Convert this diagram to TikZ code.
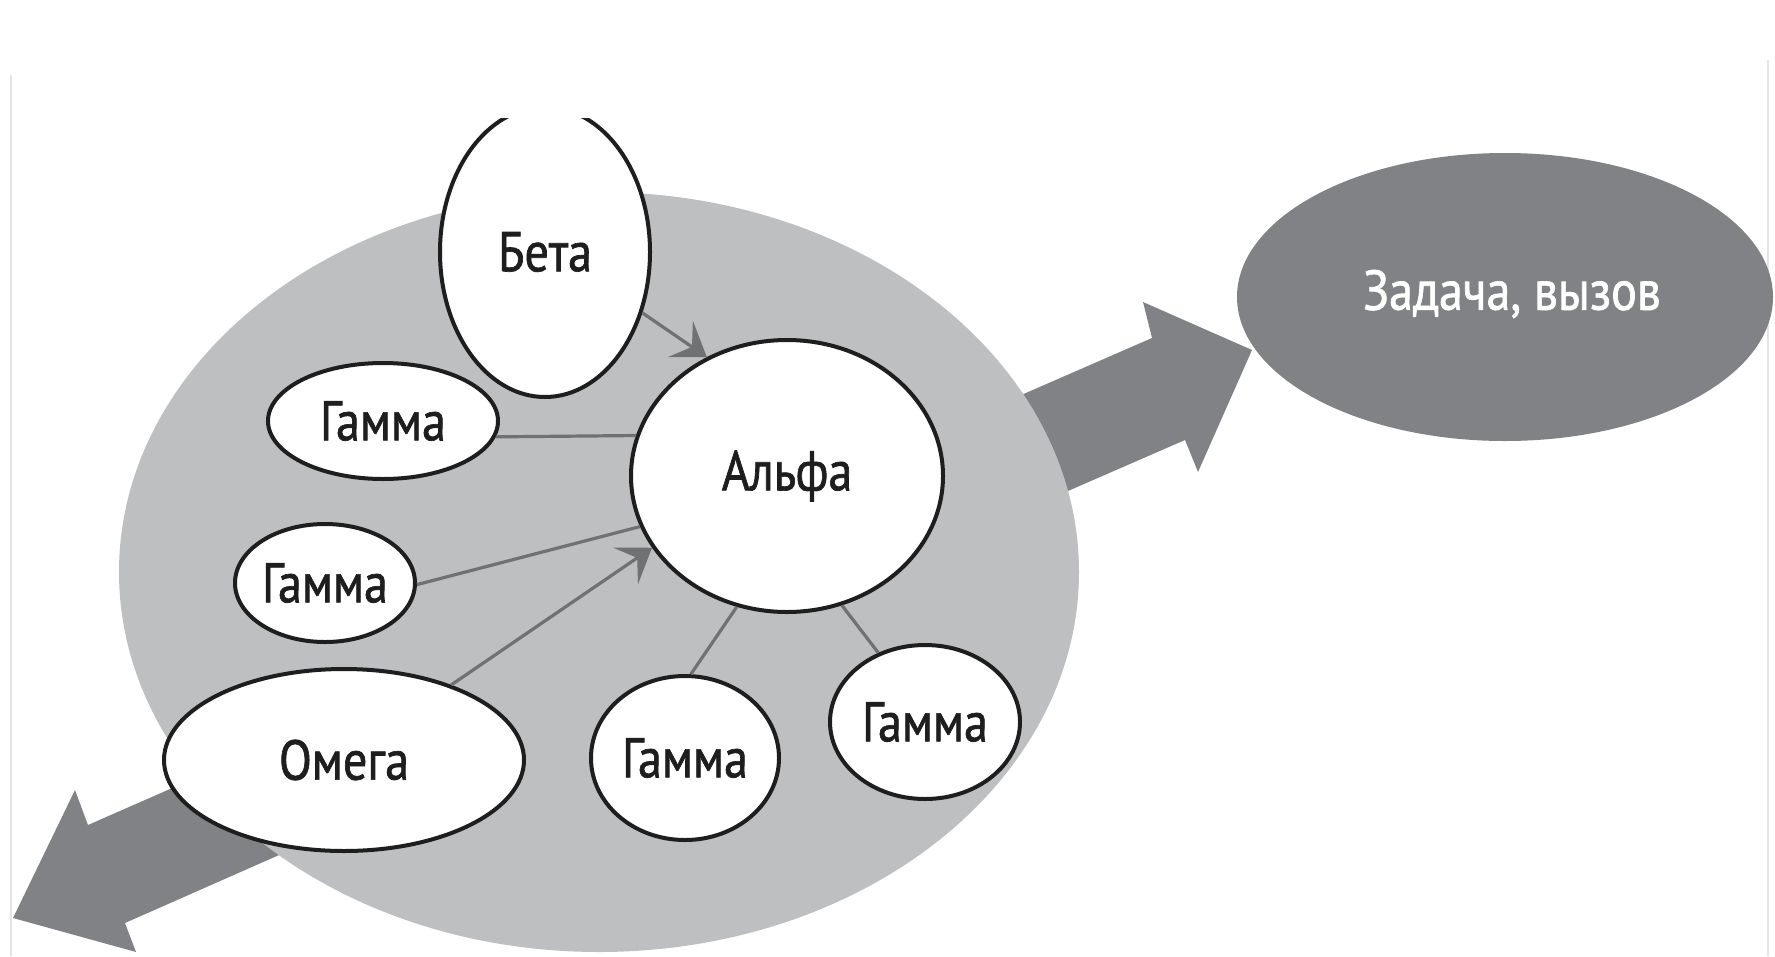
\documentclass[tikz,border=0pt]{standalone}
\usepackage{fontspec}
\setmainfont[FakeStretch=0.86,FakeBold=1.2]{PT Sans}
\usetikzlibrary{arrows.meta,shapes.geometric}
\definecolor{lightfill}{RGB}{190,191,193}
\definecolor{darkfill}{RGB}{128,130,133}
\definecolor{linegray}{RGB}{112,113,115}
\definecolor{inkc}{RGB}{30,30,30}
\definecolor{framegray}{RGB}{228,228,228}
\begin{document}
\begin{tikzpicture}[x=1pt,y=-1pt,
  bubble/.style={ellipse, draw=inkc, line width=4pt, fill=white, inner sep=0pt,
    font=\fontsize{56}{60}\selectfont, text=inkc},
  link/.style={draw=linegray, line width=3.2pt},
  linkarrow/.style={link, -{Stealth[length=32pt,width=44pt,inset=14pt]}},
  bigarrow/.style={fill=darkfill},
]
\useasboundingbox (0,0) rectangle (1775,956);
% faint frame lines
\draw[framegray, line width=1.5pt] (11,75) -- (11,956);
\draw[framegray, line width=1.5pt] (1768,60) -- (1768,956);
% big arrows (behind the team ellipse)
\fill[bigarrow] (1252,350) -- (1143,302) -- (1152,338) -- (895,450) -- (928,552) -- (1185,440) -- (1198,472) -- cycle;
\fill[bigarrow] (13,918) -- (75,790) -- (88,825) -- (400,688) -- (440,784) -- (125,923) -- (136,952) -- cycle;
% team area
\node[ellipse, fill=lightfill, inner sep=0pt, minimum width=960pt, minimum height=760pt] (team) at (599,572) {};
% goal
\node[ellipse, fill=darkfill, inner sep=0pt, minimum width=536pt, minimum height=288pt] (goal) at (1505,297) {};
\node[font=\fontsize{56}{60}\selectfont, text=white] (goaltext) at (1512,294) {Задача, вызов};
% bubbles
\begin{scope}
\clip (0,118) rectangle (1775,956);
\node[bubble, minimum width=210pt, minimum height=290pt] (beta) at (545,252) {\makebox[0pt]{Бета}};
\end{scope}
\node[bubble, minimum width=312pt, minimum height=272pt] (alpha) at (787,476) {\makebox[0pt]{Альфа}};
\node[bubble, minimum width=230pt, minimum height=116pt] (gamma1) at (383,421) {\makebox[0pt]{Гамма}};
\node[bubble, minimum width=180pt, minimum height=118pt] (gamma2) at (325,583) {\makebox[0pt]{Гамма}};
\node[bubble, minimum width=360pt, minimum height=182pt] (omega) at (344,760) {\makebox[0pt]{Омега}};
\node[bubble, minimum width=188pt, minimum height=164pt] (gamma3) at (685,758) {\makebox[0pt]{Гамма}};
\node[bubble, minimum width=190pt, minimum height=154pt] (gamma4) at (925,722) {\makebox[0pt]{Гамма}};
% connectors
\draw[linkarrow] (beta.-32) -- (alpha.124);
\draw[link] (gamma1.-8) -- (alpha.165);
\draw[link] (gamma2.-1) -- (alpha.-161);
\draw[linkarrow] (omega.35) -- (alpha.-152);
\draw[link] (alpha.-111) -- (gamma3.86);
\draw[link] (alpha.-67) -- (gamma4.124);
\end{tikzpicture}
\end{document}
